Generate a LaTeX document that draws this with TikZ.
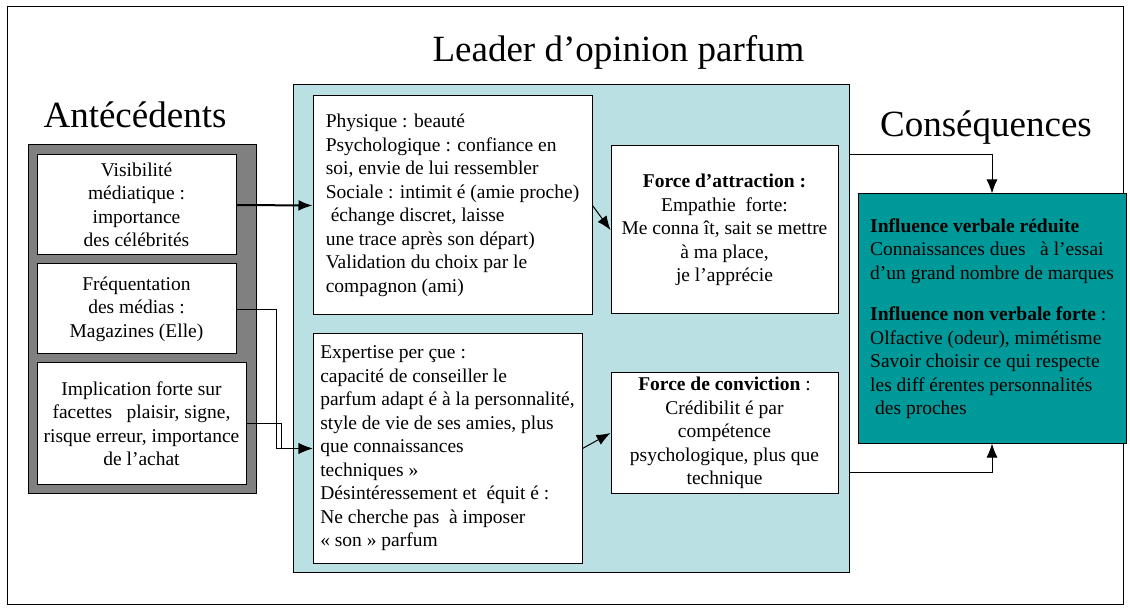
\documentclass[tikz,border=0pt]{standalone}
\usepackage{fontspec}
\setmainfont{Liberation Serif}
\usetikzlibrary{shapes,arrows,arrows.meta,positioning}
\definecolor{panelblue}{HTML}{BBE0E3}
\definecolor{influteal}{HTML}{009999}
\definecolor{framegray}{HTML}{808080}
\newcommand{\bodysize}{\fontsize{19.5}{23.5}\selectfont}
\newcommand{\headsize}{\fontsize{37}{44}\selectfont}

\begin{document}
\begin{tikzpicture}[x=1pt,y=-1pt,>={Latex[length=14pt,width=11pt]},
                box/.style={draw, line width=1pt, fill=white, inner sep=0pt, font=\bodysize},
                leftbox/.style={box, align=left},
                midbox/.style={box, align=center},
                panelbox/.style={draw, line width=1pt, inner sep=0pt},
                heading/.style={font=\headsize, anchor=base, inner sep=0pt},
                link/.style={->, line width=1pt}
                ]
                \useasboundingbox (0,0) rectangle (1130,609);
                \draw[line width=1pt] (7,7) rectangle (1123,604);
                % titles
                \node[heading] (title) at (618.5,62) {Leader d’opinion parfum};
                \node[heading] (antec) at (135,128) {Antécédents};
                \node[heading] (consq) at (986,137) {Conséquences};
                % background panels
                \node[panelbox, fill=framegray, minimum width=228, minimum height=348] (antframe) at (142,319) {};
                \node[panelbox, fill=panelblue, minimum width=556, minimum height=487] (panel) at (571,328.5) {};
                % antecedents
                \node[midbox, minimum width=199, minimum height=100] (vis) at (136.5,205) {Visibilité\\ médiatique :\\ importance\\ des célébrités};
                \node[midbox, minimum width=199, minimum height=90] (freq) at (136.5,309) {Fréquentation\\ des médias :\\ Magazines (Elle)};
                \node[midbox, minimum width=209, minimum height=121] (impl) at (141.5,423.5) {Implication forte sur\\ facettes~~ plaisir, signe,\\ risque erreur, importance\\ de l’achat};
                % leader
                \node[leftbox, minimum width=279, minimum height=219] (phys) at (452.5,205.5) {Physique : beauté\\
                        Psychologique : confiance en\\
                        soi, envie de lui ressembler\\
                        Sociale : intimit é (amie proche)\\
                        \hspace*{5pt}échange discret, laisse\\
                        une trace après son départ)\\
                        Validation du choix par le\\
                        compagnon (ami)};
                \node[leftbox, minimum width=269, minimum height=229] (expert) at (447.5,448.5) {Expertise per çue :\\
                        capacité de conseiller le\\
                        parfum adapt é à la personnalité,\\
                        style de vie de ses amies, plus\\
                        que connaissances\\
                        techniques »\\
                        Désintéressement et~ équit é :\\
                        Ne cherche pas~ à imposer\\
                        « son » parfum};
                \node[midbox, minimum width=227, minimum height=168] (attr) at (724.5,230) {\textbf{Force d’attraction :}\\
                        Empathie~ forte:\\
                        Me conna ît, sait se mettre\\
                        à ma place,\\
                        je l’apprécie};
                \node[midbox, minimum width=227, minimum height=120] (conv) at (724.5,433) {\textbf{Force de conviction} :\\
                        Crédibilit é par\\
                        compétence\\
                        psychologique, plus que\\
                        technique};
                % consequences
                \node[leftbox, fill=influteal, minimum width=268, minimum height=249] (infl) at (992,318.5) {\textbf{Influence verbale réduite}\\
                        Connaissances dues~~ à l’essai\\
                        d’un grand nombre de marques\\[18pt]
                        \textbf{Influence non verbale forte} :\\
                        Olfactive (odeur), mimétisme\\
                        Savoir choisir ce qui respecte\\
                        les diff érentes personnalités\\
                        \hspace*{5pt}des proches};
                % connectors
                \draw[link, line width=2pt] (vis.east) -- (phys.west);
                \draw[link, line width=0.8pt] (freq.east) -- ++(40,0) |- (expert.west);
                \draw[link, line width=1.5pt] (impl.east) -- ++(35,0) |- (expert.west);
                \draw[link] (phys.east) -- (attr.west);
                \draw[link] (expert.east) -- (conv.west);
                \draw[link] ([yshift=-70pt]panel.north east) -| (infl.north);
                \draw[link] ([yshift=100pt]panel.south east) -| (infl.south);
        \end{tikzpicture}
\end{document}
